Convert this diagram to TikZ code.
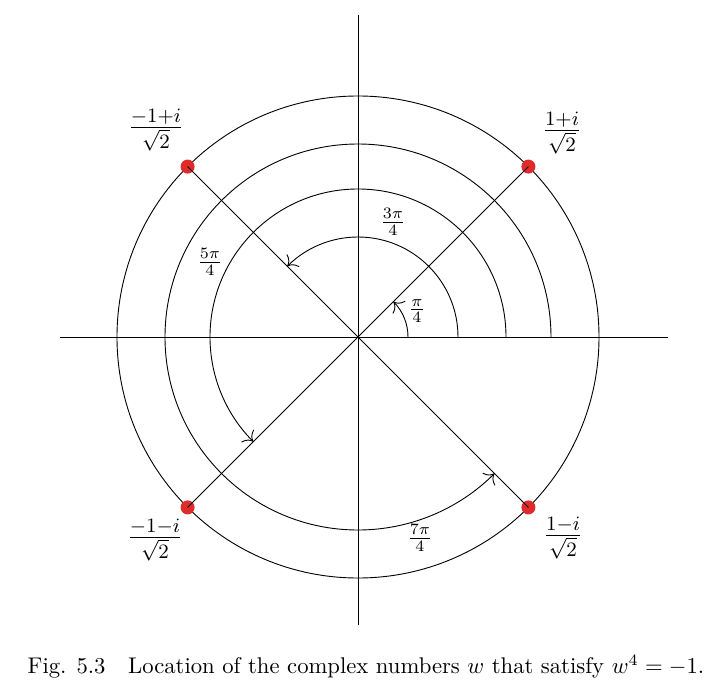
\documentclass[tikz,border=0pt]{standalone}
\usepackage{amsmath}
\usetikzlibrary{arrows.meta}
\definecolor{rootred}{RGB}{222,44,44}
\begin{document}
\begin{tikzpicture}[x=0.0155cm, y=0.0155cm, line width=0.4pt, >={To[scale=1.5]},
  dot/.style={circle, fill=rootred, inner sep=0pt, minimum size=6.2pt},
  root/.style={font=\fontsize{13.5}{16}\selectfont},
  ang/.style={font=\fontsize{10}{12}\selectfont}]
\def\rout{241};
\def\rone{50};
\def\rtwo{100};
\def\rthree{148};
\def\rfour{193};

\useasboundingbox (-358,-360) rectangle (354,337);

% axes
\coordinate (o) at (0,0);
\coordinate (xl) at (-298,0);
\coordinate (xr) at (310,0);
\coordinate (yb) at (0,-288);
\coordinate (yt) at (0,322);
\draw (xl) -- (xr);
\draw (yb) -- (yt);

\draw (o) circle (\rout);

% the four roots
\node[dot] (p1) at (45:\rout) {};
\node[dot] (p2) at (135:\rout) {};
\node[dot] (p3) at (225:\rout) {};
\node[dot] (p4) at (315:\rout) {};
\foreach \p in {p1,p2,p3,p4}
  \draw (o) -- (\p.center);

% angles
\draw[->] (\rone,0) arc (0:45:\rone);
\draw[->] (\rtwo,0) arc (0:135:\rtwo);
\draw[->] (\rthree,0) arc (0:225:\rthree);
\draw[->] (\rfour,0) arc (0:315:\rfour);

\node[ang] (a1) at (59,26) {$\frac{\pi}{4}$};
\node[ang] (a2) at (35,115) {$\frac{3\pi}{4}$};
\node[ang] (a3) at (-148,75) {$\frac{5\pi}{4}$};
\node[ang] (a4) at (62,-201) {$\frac{7\pi}{4}$};

\node[root] (l1) at (204,204) {$\frac{1+i}{\sqrt{2}}$};
\node[root] (l2) at (-202,207) {$\frac{-1+i}{\sqrt{2}}$};
\node[root] (l3) at (-203,-203) {$\frac{-1-i}{\sqrt{2}}$};
\node[root] (l4) at (205,-201) {$\frac{1-i}{\sqrt{2}}$};

\node (cap) at (8,-330) {Fig. 5.3\quad Location of the complex numbers $w$ that satisfy $w^4=-1$.};
\end{tikzpicture}
\end{document}
